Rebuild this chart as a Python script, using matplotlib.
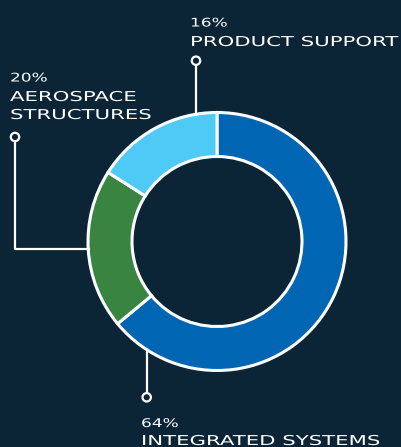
import matplotlib
matplotlib.use("Agg")
import matplotlib.pyplot as plt
from matplotlib.patheffects import AbstractPathEffect
from matplotlib.transforms import Affine2D
from matplotlib.patches import Circle

# ---- data ----
segments = ["INTEGRATED SYSTEMS", "AEROSPACE STRUCTURES", "PRODUCT SUPPORT"]
shares = [64, 20, 16]
pct_labels = ["64%", "20%", "16%"]
name_lines = [["INTEGRATED SYSTEMS"], ["AEROSPACE", "STRUCTURES"], ["PRODUCT SUPPORT"]]
colors = ["#0066b3", "#3a8441", "#4fc9f5"]

BG = "#0b2537"
W, H = 402, 447


class Stretch(AbstractPathEffect):
    """Horizontally widen glyphs (extended-face look)."""
    def __init__(self, sx=1.5):
        super().__init__()
        self.sx = sx

    def draw_path(self, renderer, gc, tpath, affine, rgbFace=None):
        renderer.draw_path(gc, tpath, Affine2D().scale(self.sx, 1) + affine, rgbFace)


fig = plt.figure(figsize=(W / 100, H / 100), dpi=100, facecolor=BG)
ax = fig.add_axes([0, 0, 1, 1])
ax.set_facecolor(BG)


def Y(y):
    return H - y


cx, cy = 217, 241.5
R, ring = 129, 44

ax.pie(shares, colors=colors, startangle=90, counterclock=False,
       center=(cx, Y(cy)), radius=R, frame=True,
       wedgeprops=dict(width=ring, edgecolor="white", linewidth=2.2))
ax.set_xlim(0, W)
ax.set_ylim(0, H)
ax.set_aspect("equal")
ax.axis("off")

lc = "white"
lw = 1.6


def marker(x, y):
    ax.add_patch(Circle((x, Y(y)), 4.2, facecolor=BG, edgecolor=lc, lw=lw, zorder=5))


# Product support leader
ax.plot([196, 196], [Y(65), Y(114.5)], color=lc, lw=lw, zorder=4)
marker(196, 60.7)
# Aerospace leader
ax.plot([15, 15, 89], [Y(141.5), Y(249), Y(249)], color=lc, lw=lw, zorder=4)
marker(15, 137)
# Integrated leader
ax.plot([146.7, 146.7], [Y(350), Y(393)], color=lc, lw=lw, zorder=4)
marker(146.7, 397.3)

fam = "DejaVu Sans"


def label(x, y_pct, y_lines, pct, lines):
    ax.text(x, Y(y_pct), pct, color="white", fontsize=8.6, family=fam,
            ha="left", va="baseline", path_effects=[Stretch(1.42)])
    for yl, s in zip(y_lines, lines):
        ax.text(x, Y(yl), s, color="white", fontsize=9.8, family=fam,
                ha="left", va="baseline", path_effects=[Stretch(1.56)])


label(190, 26.5, [46], pct_labels[2], name_lines[2])
label(10, 81.5, [101, 119], pct_labels[1], name_lines[1])
label(141, 427, [445], pct_labels[0], name_lines[0])

fig.savefig("out.png", dpi=100, facecolor=BG)
